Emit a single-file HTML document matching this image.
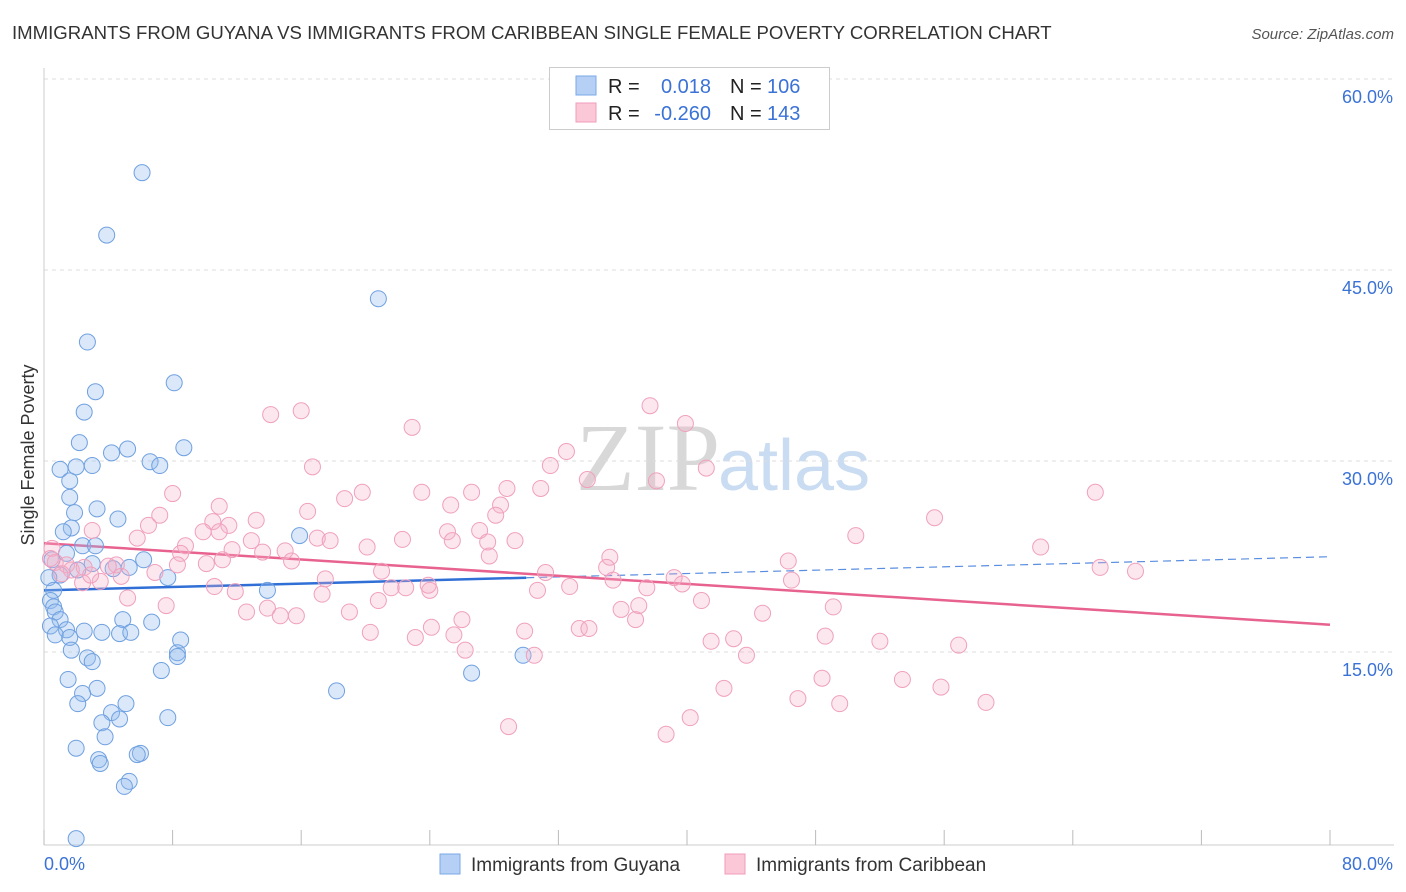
<!DOCTYPE html>
<html><head><meta charset="utf-8"><style>
body{margin:0;background:#fff;font-family:"Liberation Sans",sans-serif;}
svg{display:block}
</style></head><body>
<svg id="chart" width="1406" height="892">
<text x="12" y="39" font-size="18.6" fill="#333">IMMIGRANTS FROM GUYANA VS IMMIGRANTS FROM CARIBBEAN SINGLE FEMALE POVERTY CORRELATION CHART</text>
<text x="1394" y="39" font-size="15" fill="#555" font-style="italic" text-anchor="end">Source: ZipAtlas.com</text>
<text x="34" y="455" font-size="18" fill="#333" text-anchor="middle" transform="rotate(-90 34 455)">Single Female Poverty</text>
<text x="720" y="490" font-size="96" fill="#d8d8d8" text-anchor="end" font-family="Liberation Serif">ZIP</text>
<text x="718" y="490" font-size="72" fill="#c9dcf2">atlas</text>
<g id="grid"></g><g id="axes"></g><g id="lines"></g><g id="pts"></g>
<g>
<rect x="549.5" y="67.5" width="280" height="62" fill="#fff" stroke="#ccc"/>
<rect x="576" y="76" width="20" height="19" fill="#b5d0f4" stroke="#7aa9e8"/>
<rect x="576" y="103" width="20" height="19" fill="#fbc8d8" stroke="#f09cbb"/>
<text x="608" y="93" font-size="20" fill="#222">R =</text><text x="711" y="93" font-size="20" fill="#3b72d6" text-anchor="end">0.018</text>
<text x="730" y="93" font-size="20" fill="#222">N =</text><text x="767" y="93" font-size="20" fill="#3b72d6">106</text>
<text x="608" y="120" font-size="20" fill="#222">R =</text><text x="711" y="120" font-size="20" fill="#3b72d6" text-anchor="end">-0.260</text>
<text x="730" y="120" font-size="20" fill="#222">N =</text><text x="767" y="120" font-size="20" fill="#3b72d6">143</text>
</g>
<g>
<rect x="440" y="854" width="20" height="20" fill="#b5d0f4" stroke="#7aa9e8"/>
<text x="471" y="871" font-size="19" fill="#333">Immigrants from Guyana</text>
<rect x="725" y="854" width="20" height="20" fill="#fbc8d8" stroke="#f09cbb"/>
<text x="756" y="871" font-size="19" fill="#333">Immigrants from Caribbean</text>
</g>
</svg>
<script>
const xTicks=[0,8,16,24,32,40,48,56,64,72,80];
const yTicks=[15,30,45,60];
const yTickLabels=["15.0%","30.0%","45.0%","60.0%"];
const guyanaX=[6.1,3.9,20.8,2.7,8.1,3.2,2.5,2.2,5.2,8.7,4.2,6.6,7.2,3.0,1.0,2.0,1.6,1.6,3.3,1.9,4.6,1.7,1.2,15.9,2.4,3.2,1.4,6.2,3.0,0.5,5.3,4.3,2.1,1.0,0.3,7.7,13.9,0.6,0.4,0.6,0.7,1.0,4.9,6.7,0.4,1.4,2.5,3.6,4.7,5.4,0.7,1.6,8.5,1.7,8.3,8.3,29.8,2.7,3.0,7.3,26.6,1.5,3.3,2.4,18.2,5.1,2.1,4.2,7.7,4.7,3.6,3.8,2.0,6.0,5.8,3.4,3.5,5.3,5.0,2.0];
const guyanaY=[52.8,47.9,42.9,39.5,36.3,35.6,34.0,31.6,31.1,31.2,30.8,30.1,29.8,29.8,29.5,29.7,28.6,27.3,26.4,26.1,25.6,24.9,24.6,24.3,23.5,23.5,22.9,22.4,22.1,22.4,21.8,21.7,21.6,21.2,21.0,21.0,20.0,20.0,19.2,18.7,18.3,17.7,17.7,17.5,17.2,16.9,16.8,16.7,16.6,16.7,16.5,16.3,16.1,15.3,15.1,14.8,14.9,14.7,14.4,13.7,13.5,13.0,12.3,11.9,12.1,11.1,11.1,10.4,10.0,9.9,9.6,8.5,7.6,7.2,7.1,6.7,6.4,5.0,4.6,0.5];
const caribX=[37.7,16.0,14.1,39.9,22.9,32.5,31.5,16.7,41.2,33.8,38.1,30.9,28.8,65.4,26.6,23.5,19.8,8.0,18.7,10.9,25.3,28.4,16.4,7.2,28.1,55.4,13.2,10.5,11.5,6.5,3.0,9.9,10.9,25.1,27.1,50.5,17.0,5.8,22.3,12.9,25.4,29.3,17.8,27.6,8.8,62.0,20.1,11.7,15.0,13.6,8.5,27.7,35.2,11.1,15.4,46.3,10.1,8.3,4.5,4.0,35.0,65.7,67.9,31.2,21.0,6.9,4.8,39.2,17.5,35.4,46.5,3.5,2.4,10.6,21.6,22.5,23.9,32.7,24.0,30.7,37.5,39.7,11.9,17.3,20.8,5.2,40.9,7.6,49.1,37.0,35.9,13.9,19.0,12.6,44.7,14.7,15.7,26.0,36.8,24.1,33.3,33.9,29.9,20.3,25.5,23.1,48.6,42.9,41.5,52.0,56.9,26.2,30.5,43.7,48.4,53.4,42.3,55.8,46.9,49.5,58.6,40.2,28.9,38.7,0.5,0.7,1.4,1.7,2.5,1.1,2.9,0.4];
const caribY=[34.5,34.1,33.8,33.1,32.8,30.9,29.8,29.7,29.6,28.7,28.6,28.0,28.0,27.7,27.7,27.7,27.7,27.6,27.2,26.6,26.7,26.7,26.2,25.9,25.9,25.7,25.5,25.4,25.1,25.1,24.7,24.6,24.6,24.6,24.7,24.3,24.1,24.1,24.0,23.9,23.9,23.9,23.9,23.8,23.5,23.4,23.4,23.2,23.1,23.0,22.9,22.7,22.6,22.4,22.3,22.3,22.1,22.0,22.0,21.9,21.8,21.8,21.5,21.4,21.5,21.4,21.1,21.0,20.9,20.8,20.8,20.7,20.6,20.3,20.2,20.2,20.4,20.3,20.0,20.0,20.2,20.5,19.9,19.7,19.2,19.4,19.2,18.8,18.7,18.8,18.5,18.6,18.3,18.3,18.2,18.0,18.0,17.7,17.7,17.1,17.0,17.0,16.8,16.7,16.5,16.3,16.4,16.2,16.0,16.0,15.7,15.3,14.9,14.9,13.1,13.0,12.3,12.4,11.5,11.1,11.2,10.0,9.3,8.7,23.3,22.2,22.0,21.6,21.8,21.3,21.2,22.5];
const guyanaTrend=[20.0,0.033];
const caribTrend=[23.7,-0.08];
const X=v=>44+v/80*1286, Y=v=>845-v/15*191;
const NS="http://www.w3.org/2000/svg";
function mk(tag,attrs,parent){const e=document.createElementNS(NS,tag);for(const k in attrs)e.setAttribute(k,attrs[k]);document.getElementById(parent).appendChild(e);return e;}
yTicks.forEach((t,i)=>{
 const l=mk('line',{x1:44,x2:1394,y1:Y(t)-2,y2:Y(t)-2,stroke:'#ddd','stroke-dasharray':'4,4'},'grid');
 
 
 const tx=mk('text',{x:1393,y:Y(t)+22,'font-size':18,fill:'#3b72d6','text-anchor':'end'},'grid');
 tx.textContent=yTickLabels[i];
 
 
});
const ax=mk('line',{x1:44,x2:1394,y1:845,y2:845,stroke:'#ccc'},'axes');


const ay=mk('line',{x1:44,x2:44,y1:68,y2:845,stroke:'#ccc'},'axes');


xTicks.forEach(t=>{const l=mk('line',{x1:X(t),x2:X(t),y1:830,y2:845,stroke:'#bbb'},'axes');
 
 });
const x0=mk('text',{x:44,y:870,'font-size':18,fill:'#3b72d6'},'axes');x0.textContent='0.0%';


const x1=mk('text',{x:1393,y:870,'font-size':18,fill:'#3b72d6','text-anchor':'end'},'axes');x1.textContent='80.0%';


guyanaX.forEach((x,i)=>{const c=mk('circle',{cx:X(x),cy:Y(guyanaY[i]),r:8,fill:'rgba(150,190,238,0.35)',stroke:'#6fa0e0','stroke-width':1},'pts');
 
 });
caribX.forEach((x,i)=>{const c=mk('circle',{cx:X(x),cy:Y(caribY[i]),r:8,fill:'rgba(246,175,200,0.3)',stroke:'#f0a0bd','stroke-width':1},'pts');
 
 });
const f=(t,x)=>t[0]+t[1]*x;
const b1=mk('line',{x1:X(0),y1:Y(f(guyanaTrend,0)),x2:X(30),y2:Y(f(guyanaTrend,30)),stroke:'#2f6fd6','stroke-width':2.5},'lines');


const b2=mk('line',{x1:X(30),y1:Y(f(guyanaTrend,30)),x2:X(80),y2:Y(f(guyanaTrend,80)),stroke:'#5b8ee0','stroke-width':1.2,'stroke-dasharray':'8,5'},'lines');


const p1=mk('line',{x1:X(0),y1:Y(f(caribTrend,0)),x2:X(80),y2:Y(f(caribTrend,80)),stroke:'#e8628f','stroke-width':2.5},'lines');


</script>
</body></html>
